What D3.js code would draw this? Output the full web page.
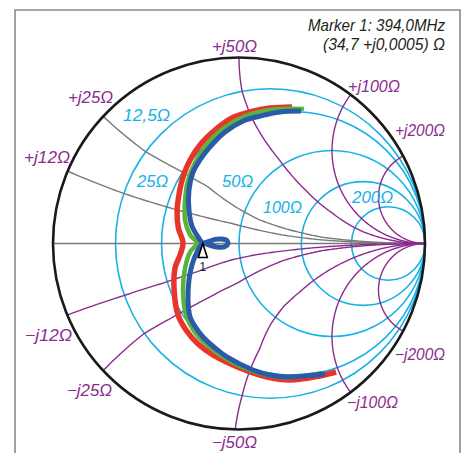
<!DOCTYPE html>
<html><head><meta charset="utf-8">
<script src="https://cdn.jsdelivr.net/npm/d3@7"></script>
<style>body{margin:0;background:#fff}svg{display:block}</style>
</head><body>
<script>
// Reference impedance of the chart (Ω)
const Z0 = 50;

// Constant-resistance circles (Ω) and their captions
const resistances = [12.5, 25, 50, 100, 200];
const resistanceLabels = ["12,5Ω", "25Ω", "50Ω", "100Ω", "200Ω"];

// Constant-reactance arcs (Ω) and their captions
const reactances = [12.5, 25, 50, 100, 200];
const reactanceLabelsPos = ["+j12Ω", "+j25Ω", "+j50Ω", "+j100Ω", "+j200Ω"];
const reactanceLabelsNeg = ["−j12Ω", "−j25Ω", "−j50Ω", "−j100Ω", "−j200Ω"];

// Marker 1
const markerName = "Marker 1";
const markerFreq = "394,0MHz";
const markerR = 34.7;
const markerX = 0.0005;

// Measured sweeps, reflection coefficient [re, im]
const sweepRed = [
  [0.285, 0.734], [0.167, 0.728], [0.059, 0.707], [-0.038, 0.675], [-0.129, 0.610],
  [-0.210, 0.530], [-0.263, 0.449], [-0.301, 0.358], [-0.323, 0.261], [-0.333, 0.169],
  [-0.326, 0.083], [-0.301, 0.003], [-0.317, -0.062], [-0.344, -0.132], [-0.349, -0.250],
  [-0.328, -0.384], [-0.285, -0.465], [-0.220, -0.540], [-0.140, -0.599], [0.005, -0.669],
  [0.151, -0.718], [0.274, -0.734], [0.435, -0.712], [0.522, -0.691]
];
const sweepGreen = [
  [0.349, 0.723], [0.220, 0.723], [0.086, 0.702], [-0.022, 0.659], [-0.113, 0.594],
  [-0.183, 0.519], [-0.237, 0.433], [-0.274, 0.341], [-0.290, 0.234], [-0.290, 0.126],
  [-0.263, 0.046], [-0.226, 0.003], [-0.263, -0.046], [-0.290, -0.132], [-0.301, -0.250],
  [-0.285, -0.384], [-0.242, -0.470], [-0.172, -0.546], [-0.075, -0.616], [0.059, -0.680],
  [0.220, -0.718], [0.382, -0.707], [0.446, -0.696]
];
const sweepBlue = [
  [0.333, 0.712], [0.220, 0.707], [0.113, 0.685], [0.022, 0.659], [-0.075, 0.599],
  [-0.156, 0.519], [-0.210, 0.449], [-0.247, 0.384], [-0.269, 0.288], [-0.269, 0.180],
  [-0.253, 0.094], [-0.220, 0.035], [-0.194, 0.003],
  [-0.161, 0.011], [-0.129, 0.022], [-0.091, 0.024], [-0.065, 0.016], [-0.059, 0.000],
  [-0.075, -0.016], [-0.118, -0.019], [-0.161, -0.008], [-0.194, 0.000],
  [-0.226, -0.046], [-0.253, -0.116], [-0.269, -0.196], [-0.274, -0.304], [-0.263, -0.395],
  [-0.231, -0.454], [-0.194, -0.503], [-0.129, -0.562], [-0.065, -0.610], [0.075, -0.680],
  [0.167, -0.707], [0.258, -0.718], [0.355, -0.712], [0.462, -0.702]
];

// ---------------------------------------------------------------- layout
const W = 469, H = 453;
const cx = 239, cy = 243.5, rad = 186;
const col = {
  cyan: "#16b1e6", purple: "#8c2b8e", grey: "#7a7a7a", frame: "#8a8a8a",
  red: "#e8342a", green: "#5bb43a", blue: "#2a5aa8", text: "#231f20"
};
const FONT = "'Liberation Sans Narrow','Liberation Sans',Arial,sans-serif";

const svg = d3.select("body").append("svg").attr("width", W).attr("height", H);

// Reflection-coefficient plane → pixels
const gx = d3.scaleLinear().domain([-1, 1]).range([cx - rad, cx + rad]);
const gy = d3.scaleLinear().domain([-1, 1]).range([cy + rad, cy - rad]);

// The printed chart paper: w = (z+1)/2 coordinates, with the left half
// of the grid drawn slightly stretched.
const uPaper = d3.scaleLinear()
  .domain([0.5, 0.625, 0.75, 0.847, 1, 1.5, 2.5])
  .range([0.5, 0.601, 0.706, 0.837, 1, 1.504, 2.53]);
const gammaOfW = (u, v) => { const d = u * u + v * v; return [1 - u / d, v / d]; };
const toPaper = (R, X) => gammaOfW(uPaper((R / Z0 + 1) / 2), (X / Z0) / 2);

// Bending of the reactance arcs along the paper (factor on the imaginary part)
const bendU = [0.5, 0.6, 0.7, 0.8, 0.95, 1.1, 1.3, 1.8, 3, 10];
const bend = {
  "12.5":  [0.81, 0.80, 0.80, 0.80, 0.79, 0.72, 0.62, 0.50, 0.45, 0.45],
  "-12.5": [0.80, 0.83, 0.84, 0.80, 0.65, 0.58, 0.55, 0.50, 0.45, 0.45],
  "25":    [0.79, 0.79, 0.83, 0.84, 0.73, 0.63, 0.565, 0.44, 0.40, 0.40],
  "-25":   [0.79, 0.77, 0.80, 0.81, 0.80, 0.72, 0.62, 0.50, 0.45, 0.45],
  "50":    [1.00, 1.00, 1.02, 1.05, 1.10, 1.13, 1.16, 1.19, 1.10, 1.00],
  "-50":   [0.98, 1.00, 1.01, 1.02, 0.99, 0.98, 1.00, 1.00, 1.00, 1.00]
};
const bendScale = X => {
  const r = bend[String(X)];
  return r ? d3.scaleLinear().domain(bendU).range(r).clamp(true) : () => 1;
};

// Frame
svg.append("path")
  .attr("d", `M15,${H + 5} V10 H460 V${H + 5}`)
  .attr("fill", "none").attr("stroke", col.frame).attr("stroke-width", 1.6);

const grid = svg.append("g").attr("fill", "none");

// Constant-resistance circles
resistances.forEach(R => {
  const g0 = 1 - 1 / uPaper((R / Z0 + 1) / 2);
  const c = (1 + g0) / 2, r = (1 - g0) / 2;
  grid.append("circle")
    .attr("cx", gx(c)).attr("cy", gy(0)).attr("r", gx(r) - gx(0))
    .attr("stroke", col.cyan).attr("stroke-width", 1.6);
});

// Real axis
grid.append("line")
  .attr("x1", gx(-1)).attr("x2", gx(1)).attr("y1", gy(0)).attr("y2", gy(0))
  .attr("stroke", col.grey).attr("stroke-width", 1.5);

// Constant-reactance arcs
const uSamples = d3.range(0, 620).map(k => 0.5 * Math.pow(1.015, k));
const arcLine = d3.line().x(d => gx(d[0])).y(d => gy(d[1])).curve(d3.curveLinear);
reactances.forEach(X => {
  [X, -X].forEach(Xs => {
    const b = bendScale(Xs);
    const pts = uSamples.map(u => gammaOfW(u, (Xs / Z0) / 2 * b(u)));
    pts.push([1, 0]);
    grid.append("path")
      .attr("d", arcLine(pts))
      .attr("stroke", (Xs > 0 && Xs < 50) ? col.grey : col.purple)
      .attr("stroke-width", 1.4);
  });
});

// Outer circle
grid.append("circle")
  .attr("cx", gx(0)).attr("cy", gy(0)).attr("r", gx(1) - gx(0))
  .attr("stroke", "#1a1a1a").attr("stroke-width", 2.6);

// Sweeps
const sweepLine = d3.line().x(d => gx(d[0])).y(d => gy(d[1])).curve(d3.curveCatmullRom.alpha(0.5));
[[sweepRed, col.red, 5.5], [sweepGreen, col.green, 4.5], [sweepBlue, col.blue, 5]]
  .forEach(([data, c, w]) => {
    svg.append("path").attr("d", sweepLine(data))
      .attr("fill", "none").attr("stroke", c).attr("stroke-width", w)
      .attr("stroke-linejoin", "round").attr("stroke-linecap", "butt");
  });

// Marker triangle and number
const mG = toPaper(markerR, markerX);
const mx = gx(mG[0]), my = gy(mG[1]);
svg.append("path")
  .attr("d", `M${mx},${my} L${mx + 4.5},${my + 14} L${mx - 4.5},${my + 14} Z`)
  .attr("fill", "#fff").attr("stroke", "#000").attr("stroke-width", 1.6)
  .attr("stroke-linejoin", "miter");
svg.append("text").attr("x", mx).attr("y", my + 28)
  .attr("text-anchor", "middle").attr("font-family", FONT).attr("font-size", 12.5)
  .attr("fill", col.text).text("1");

// Text helper with fixed printed width
function label(txt, x, y, w, size, fill, anchor) {
  svg.append("text")
    .attr("x", x).attr("y", y)
    .attr("text-anchor", anchor || "start")
    .attr("font-family", FONT).attr("font-style", "italic")
    .attr("font-size", size).attr("fill", fill)
    .attr("textLength", w).attr("lengthAdjust", "spacingAndGlyphs")
    .text(txt);
}

// Resistance captions
const rLabelPos = [[123, 121, 47], [137, 187, 31], [222, 187, 31], [263, 213, 39], [352, 203, 41]];
resistanceLabels.forEach((t, i) => label(t, ...rLabelPos[i], 17, col.cyan));

// Reactance captions
const xPosLabel = [[24, 163, 46], [68, 103, 45], [212, 52, 45], [348, 92, 52], [395, 136, 50]];
const xNegLabel = [[25, 341, 47], [67, 396, 45], [212, 448, 45], [347, 408, 51], [395, 360, 50]];
reactanceLabelsPos.forEach((t, i) => label(t, ...xPosLabel[i], 16.5, col.purple));
reactanceLabelsNeg.forEach((t, i) => label(t, ...xNegLabel[i], 16.5, col.purple));

// Marker readout, placed by its left edge
const fmt = v => String(v).replace(".", ",");
label(`${markerName}: ${markerFreq}`, 308, 31, 137, 17, col.text);
label(`(${fmt(markerR)} +j${fmt(markerX)}) Ω`, 323, 50, 122, 17, col.text);
</script>
</body></html>
